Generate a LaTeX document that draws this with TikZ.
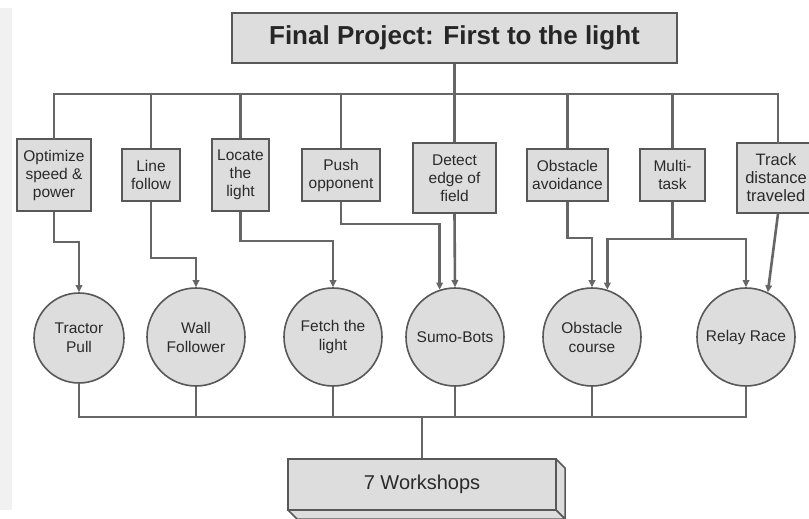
\documentclass[tikz,border=0pt]{standalone}
\usepackage{fontspec}
\setmainfont{Liberation Sans}
\usetikzlibrary{arrows.meta,calc}
\definecolor{linec}{HTML}{666666}
\definecolor{edgec}{HTML}{585858}
\definecolor{fillc}{HTML}{DDDDDD}
\definecolor{textc}{HTML}{2A2A2A}
\definecolor{stripc}{HTML}{F1F1F1}
\tikzset{
  conn/.style={draw=linec, line width=2.6pt},
  arr/.style={conn, -{Triangle[length=7pt,width=6.5pt]}},
  task/.style={draw=edgec, fill=fillc, line width=1.6pt, rectangle, inner sep=0pt, align=center,
               text=textc, font=\fontsize{15.5}{18}\selectfont},
  game/.style={draw=edgec, fill=fillc, line width=1.6pt, circle, inner sep=0pt, align=center,
               text=textc, font=\fontsize{15.5}{19}\selectfont},
  titlebox/.style={draw=edgec, fill=fillc, line width=1.8pt, rectangle, inner sep=0pt,
               text=black!85, font=\fontsize{26}{30}\selectfont\bfseries},
  wsface/.style={draw=edgec, fill=fillc, line width=1.5pt, line join=round}
}
\begin{document}
\begin{tikzpicture}[x=1pt,y=-1pt]
\useasboundingbox (0,0) rectangle (809,519);
\fill[white] (0,0) rectangle (809,519);
\fill[stripc] (0,8) rectangle (12,510);

% title
\node[titlebox, minimum width=445pt, minimum height=50pt] (title) at (454.5,38) {Final Project: First to the light};

% task boxes
\node[task, minimum width=74pt, minimum height=72pt] (b1) at (54,175) {Optimize\\speed \&\\power};
\node[task, minimum width=58pt, minimum height=52pt] (b2) at (151,175) {Line\\follow};
\node[task, minimum width=57pt, minimum height=72pt] (b3) at (240.5,175) {Locate\\the\\light};
\node[task, minimum width=78pt, minimum height=52pt] (b4) at (341,175) {Push\\opponent};
\node[task, minimum width=83pt, minimum height=70pt] (b5) at (454.5,178) {Detect\\edge of\\field};
\node[task, minimum width=81pt, minimum height=52pt] (b6) at (567.5,175) {Obstacle\\avoidance};
\node[task, minimum width=65pt, minimum height=52pt] (b7) at (672.5,175) {Multi-\\task};
\node[task, minimum width=78pt, minimum height=70pt, font=\fontsize{16.5}{18}\selectfont] (b8) at (776,178) {Track\\distance\\traveled};

% games
\node[game, minimum size=90pt] (c1) at (79,338) {Tractor\\Pull};
\node[game, minimum size=98pt] (c2) at (196,337) {Wall\\Follower};
\node[game, minimum size=98pt] (c3) at (333,337) {Fetch the\\light};
\node[game, minimum size=98pt] (c4) at (455,337) {Sumo-Bots};
\node[game, minimum size=98pt] (c5) at (592,337) {Obstacle\\course};
\node[game, minimum size=98pt] (c6) at (746,337) {Relay Race};

% workshops 3D box
\draw[wsface] (556,459) -- (565,468) -- (565,519) -- (556,510) -- cycle;
\draw[wsface] (288,510) -- (556,510) -- (565,519) -- (297,519) -- cycle;
\node[rectangle, draw=edgec, fill=fillc, line width=1.5pt, inner sep=0pt, minimum width=268pt, minimum height=51pt,
      text=textc, font=\fontsize{20}{24}\selectfont] (ws) at (422,484.5) {7 Workshops};

% top bus
\coordinate (t8) at ($(b8.north)+(2,0)$);
\draw[conn] (title.south) -- (title.south |- 0,94);
\draw[conn, line cap=rect] (b1.north) -- (b1.north |- 0,94) -- (t8 |- 0,94) -- (t8);
\foreach \b in {b2,b3,b4,b5,b6,b7} \draw[conn] (\b.north) -- (\b.north |- 0,94);

% box to game connectors
\draw[arr] (b1.south) |- (c1.north |- 0,242) -- (c1.north);
\draw[arr] (b2.south) |- (c2.north |- 0,258) -- (c2.north);
\draw[arr] (b3.south) |- (c3.north |- 0,241) -- (c3.north);
\draw[arr] (b4.south) |- (c4.108 |- 0,224) -- (c4.108);
\draw[arr] (b5.south) -- (c4.north);
\draw[arr] (b6.south) |- (c5.north |- 0,238) -- (c5.north);
\coordinate (m7) at (b7.south |- 0,239);
\draw[conn] (b7.south) -- (m7);
\draw[arr] (m7) -| (c5.72);
\draw[arr] (m7) -| (c6.north);
\draw[arr] ($(b8.south)+(2,0)$) -- (c6.64);

% bottom bus
\draw[conn, line cap=rect] (c1.south) -- (c1.south |- 0,417) -- (c6.south |- 0,417) -- (c6.south);
\foreach \c in {c2,c3,c4,c5} \draw[conn] (\c.south) -- (\c.south |- 0,417);
\draw[conn] (ws.north |- 0,417) -- (ws.north);
\end{tikzpicture}
\end{document}
